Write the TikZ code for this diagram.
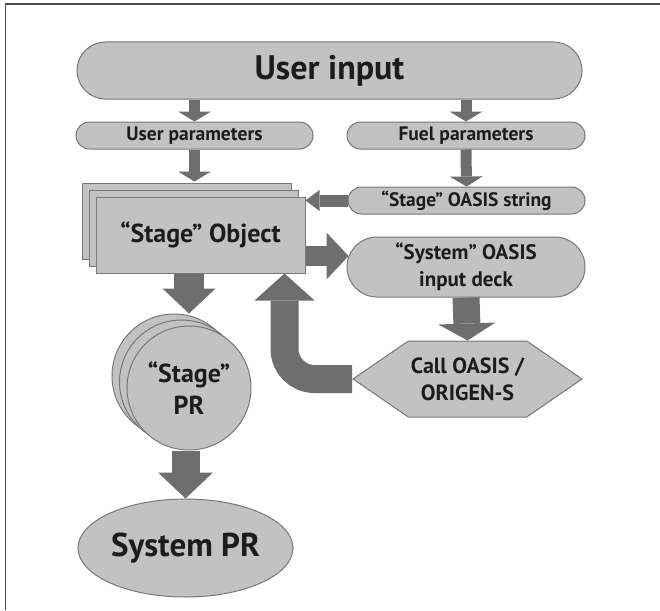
\documentclass[tikz,border=0pt]{standalone}
\usepackage{fontspec}
\setmainfont{PT Sans}
\usepackage{tikz}
\usetikzlibrary{arrows.meta,positioning,shapes.geometric,shapes.misc,shapes.symbols,shadows,backgrounds,calc}
\usepackage{xcolor}
\definecolor{BoxGray}{RGB}{194,194,194}
\definecolor{EdgeGray}{RGB}{120,120,120}
\definecolor{FlowGray}{RGB}{110,110,110}
\definecolor{InkBlack}{RGB}{28,28,28}

\begin{document}
\begin{tikzpicture}[x=1pt,y=-1pt,
  pill/.style={rounded rectangle,draw=EdgeGray,fill=BoxGray,line width=1pt,inner sep=0pt,text=InkBlack,font=\bfseries\fontsize{19.5}{21}\selectfont},
  sheet/.style={rectangle,draw=EdgeGray,fill=BoxGray,line width=1pt,inner sep=0pt,text=InkBlack,font=\bfseries\fontsize{26}{28}\selectfont},
  flow/.style n args={3}{draw=FlowGray,line width=#1,-{Triangle[width=#2,length=#3,line width=0pt]}}
]
  \useasboundingbox (0,0) rectangle (660,610);
  \draw[line width=1.5pt,black!70] (5.5,610) -- (5.5,4) -- (660,4);

  \node[pill,minimum width=505pt,minimum height=57pt,font=\bfseries\fontsize{34}{36}\selectfont] (ui) at (329.5,70.5) {User input};
  \node[pill,minimum width=237pt,minimum height=27pt] (up) at (194.5,135.5) {User parameters};
  \node[pill,minimum width=238pt,minimum height=27pt] (fp) at (466,135.5) {Fuel parameters};
  \node[pill,minimum width=237pt,minimum height=27pt] (oss) at (466.5,200.5) {“Stage” OASIS string};
  \node[sheet,minimum width=209pt,minimum height=76pt,double copy shadow={shadow xshift=-7pt,shadow yshift=7pt}] (so) at (200.5,235) {“Stage” Object};
  \node[pill,minimum width=238pt,minimum height=60pt,align=center,font=\bfseries\fontsize{21}{27}\selectfont] (deck) at (466,267) {“System” OASIS\\input deck};
  \node[signal,signal to=east and west,signal pointer angle=69,draw=EdgeGray,fill=BoxGray,line width=1pt,inner sep=0pt,minimum width=229pt,minimum height=76pt,align=center,text=InkBlack,font=\bfseries\fontsize{22}{27}\selectfont] (cl) at (467.5,379) {Call OASIS /\\ORIGEN-S};
  \node[circle,draw=EdgeGray,fill=BoxGray,line width=1pt,inner sep=0pt,minimum size=124pt,double copy shadow={shadow xshift=-7.5pt,shadow yshift=6pt},align=center,text=InkBlack,font=\bfseries\fontsize{26}{32}\selectfont] (spr) at (189,388) {“Stage”\\PR};
  \node[ellipse,draw=EdgeGray,fill=BoxGray,line width=1pt,inner sep=0pt,minimum width=215pt,minimum height=98pt,text=InkBlack,font=\bfseries\fontsize{33}{35}\selectfont] (sys) at (185.5,548) {System PR};

  \begin{scope}[on background layer]
    \draw[flow={11pt}{33pt}{10pt}] (ui.south -| up) -- (up.north);
    \draw[flow={11pt}{33pt}{10pt}] (ui.south -| fp) -- (fp.north);
    \draw[flow={11pt}{33pt}{10pt}] (up.south) -- ([yshift=15pt]so.north -| up.south);
    \draw[flow={11pt}{33pt}{10pt}] (fp.south) -- (oss.north);
    \draw[flow={12pt}{21pt}{14pt}] (oss.west) -- (so.east |- oss.west);
    \coordinate (sd) at ([yshift=-21pt]so.east);
    \draw[flow={20pt}{47pt}{22pt}] (sd) -- ([xshift=2pt]sd -| deck.west);
    \draw[flow={27pt}{57pt}{17pt}] (deck.south) -- (cl.north);
    \draw[flow={30pt}{53pt}{25pt}] (so.south -| spr.north) -- ([yshift=12pt]spr.north);
    \draw[flow={28pt}{55pt}{26pt}] (spr.south -| sys.north) -- (sys.north);
    \draw[flow={28pt}{60pt}{27pt},rounded corners=30pt] (cl.west) -| ([xshift=-21pt]so.south east);
  \end{scope}
\end{tikzpicture}
\end{document}
